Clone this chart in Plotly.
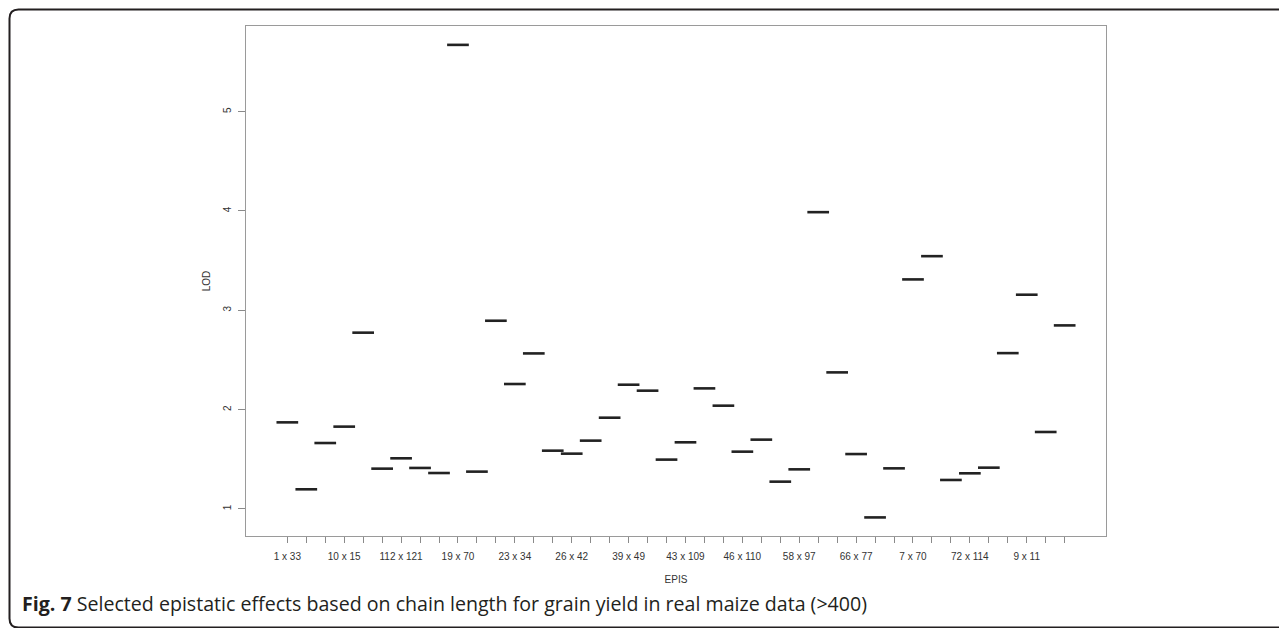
import plotly.graph_objects as go

# ---------------- data ----------------
categories = list(range(1, 43))  # 42 epistatic pairs (only every 3rd name is printed)
lod = [1.872, 1.198, 1.664, 1.829, 2.775, 1.406, 1.510, 1.413, 1.362, 5.672,
       1.376, 2.895, 2.258, 2.566, 1.587, 1.557, 1.688, 1.919, 2.251, 2.191,
       1.497, 1.671, 2.214, 2.040, 1.577, 1.698, 1.275, 1.399, 3.988, 2.375,
       1.553, 0.915, 1.409, 3.311, 3.545, 1.292, 1.359, 1.416, 2.569, 3.157,
       1.775, 2.848]
shown_labels = ["1 x 33", "10 x 15", "112 x 121", "19 x 70", "23 x 34", "26 x 42",
                "39 x 49", "43 x 109", "46 x 110", "58 x 97", "66 x 77", "7 x 70",
                "72 x 114", "9 x 11"]
label_step = 3
y_ticks = [1, 2, 3, 4, 5]
caption_bold = "Fig. 7"
caption_text = " Selected epistatic effects based on chain length for grain yield in real maize data (>400)"

# ---------------- layout geometry (pixels) ----------------
OFF = 8  # page body margin
W, H = 1287, 628
L = 246 - OFF
T = 26 - OFF
R = W - (1106 - OFF)
B = H - (536 - OFF)
PW, PH = W - L - R, H - T - B

def px_x(px):
    return (px - OFF - L) / PW

def px_y(py):
    return (H - B - (py - OFF)) / PH

ticktext = []
for i, c in enumerate(categories):
    ticktext.append(shown_labels[i // label_step] if i % label_step == 0 else "")

fig = go.Figure()
fig.add_trace(go.Scatter(
    x=categories, y=lod, mode="markers",
    marker=dict(symbol="line-ew", size=15.5, color="#222222",
                line=dict(color="#222222", width=2.6)),
    showlegend=False, hoverinfo="x+y",
))

axis_font = dict(family="Liberation Sans, Arial, sans-serif", size=10, color="#333333")

fig.update_layout(
    width=W, height=H,
    margin=dict(l=L, r=R, t=T, b=B, pad=0),
    paper_bgcolor="white", plot_bgcolor="white",
    font=axis_font,
    xaxis=dict(
        range=[-1.18, 44.18], tickmode="array", tickvals=categories, ticktext=ticktext,
        showgrid=False, zeroline=False, showline=True, mirror=True,
        linecolor="#9a9a9a", linewidth=1.4,
        ticks="outside", ticklen=6, tickwidth=1, tickcolor="#8a8a8a",
        tickfont=axis_font, ticklabelstandoff=5,
        title=dict(text="EPIS", font=axis_font, standoff=14),
    ),
    yaxis=dict(
        range=[0.728, 5.862], tickmode="array", tickvals=y_ticks,
        ticktext=[str(v) for v in y_ticks], tickangle=-90,
        showgrid=False, zeroline=False, showline=True, mirror=True,
        linecolor="#9a9a9a", linewidth=1.4,
        ticks="outside", ticklen=7, tickwidth=1, tickcolor="#8a8a8a",
        tickfont=axis_font, ticklabelstandoff=3,
        title=dict(text="LOD", font=axis_font, standoff=9),
    ),
)

# caption
fig.add_annotation(
    xref="paper", yref="paper", x=px_x(20), y=px_y(603),
    xanchor="left", yanchor="middle", showarrow=False,
    text="<b>" + caption_bold + "</b>" + caption_text,
    font=dict(family="Open Sans, Noto Sans, sans-serif", size=19.6, color="#231f20"),
)

# outer rounded frame
x0, y0, y1, x1, r = 9.5, 9.5, 627.5, 1300.0, 9.0
path = (f"M {px_x(x1)} {px_y(y0)} L {px_x(x0 + r)} {px_y(y0)} "
        f"Q {px_x(x0)} {px_y(y0)} {px_x(x0)} {px_y(y0 + r)} "
        f"L {px_x(x0)} {px_y(y1 - r)} "
        f"Q {px_x(x0)} {px_y(y1)} {px_x(x0 + r)} {px_y(y1)} "
        f"L {px_x(x1)} {px_y(y1)}")
fig.add_shape(type="path", xref="paper", yref="paper", path=path,
              line=dict(color="#231f20", width=2), layer="above")

fig.write_html("out.html")
